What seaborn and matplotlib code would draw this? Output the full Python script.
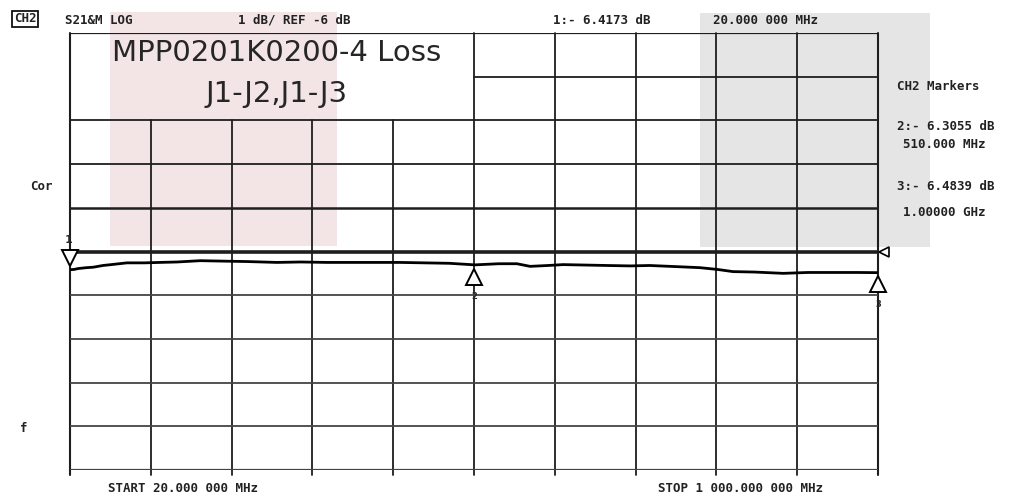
import matplotlib
matplotlib.use("Agg")
import matplotlib.pyplot as plt
import seaborn as sns
import numpy as np
import pandas as pd
from matplotlib.patches import Rectangle

# ---- data ----
freq_mhz = [20, 25, 30, 40, 48, 60, 70, 89, 110, 129, 150, 178, 205, 235, 271, 300, 332,
            370, 420, 450, 480, 511, 540, 562, 578, 600, 618, 645, 671, 700, 723, 760,
            784, 805, 824, 850, 885, 915, 945, 975, 1000]
loss_db = [-6.417, -6.41, -6.39, -6.37, -6.36, -6.32, -6.30, -6.26, -6.26, -6.25, -6.24, -6.21,
           -6.22, -6.23, -6.25, -6.24, -6.25, -6.25, -6.25, -6.26, -6.27, -6.306, -6.28, -6.28,
           -6.34, -6.32, -6.30, -6.31, -6.32, -6.33, -6.32, -6.35, -6.37, -6.41, -6.46, -6.47,
           -6.50, -6.48, -6.48, -6.48, -6.484]
marker_freq = [20, 510, 1000]
marker_names = ["1", "2", "3"]
start_mhz, stop_mhz = 20, 1000
ref_db, db_per_div = -6, 1

W, H = 1021, 497
fig = plt.figure(figsize=(W / 100, H / 100), dpi=100)
sns.set_style("white")

def fx(px):
    return px / W

def fy(py):
    return 1 - py / H

# overlay shading (scan artefacts)
fig.patches.append(Rectangle((fx(110), fy(246)), fx(337) - fx(110), fy(12) - fy(246),
                             transform=fig.transFigure, facecolor="#f3e5e5", edgecolor="none", zorder=-5))
fig.patches.append(Rectangle((fx(700), fy(247)), fx(930) - fx(700), fy(13) - fy(247),
                             transform=fig.transFigure, facecolor="#e5e5e5", edgecolor="none", zorder=-5))

ax = fig.add_axes([fx(70), fy(470), fx(878) - fx(70), fy(33) - fy(470)])
ax.patch.set_alpha(0)
top = ref_db + 5 * db_per_div
bot = ref_db - 5 * db_per_div
ax.set_xlim(start_mhz, stop_mhz)
ax.set_ylim(bot, top)
for s in ax.spines.values():
    s.set_visible(False)
ax.set_xticks([])
ax.set_yticks([])

span = stop_mhz - start_mhz
box_y = top - 2 * db_per_div
gcol = "#1e1e1e"
# vertical grid
for k in range(11):
    xv = start_mhz + k * span / 10
    ymax = 1.0
    if 0 < k < 5:
        ymax = (box_y - bot) / (top - bot)
    ax.axvline(xv, ymin=-0.012, ymax=ymax, color=gcol, lw=1.5 if k in (0, 10) else 1.3, clip_on=False)
# horizontal grid
for j in range(11):
    yv = top - j * db_per_div
    xmin = 0.5 if j == 1 else 0.0
    lw = 1.3
    if abs(yv - ref_db) < 1e-9:
        lw = 2.6
    elif j in (0, 10):
        lw = 1.6
    elif j == 4:
        lw = 1.8
    c = gcol if j <= 5 else "#444444"
    ax.axhline(yv, xmin=xmin, xmax=1.0, color=c, lw=lw)

# trace
df = pd.DataFrame({"freq": freq_mhz, "loss": loss_db})
sns.lineplot(data=df, x="freq", y="loss", ax=ax, color="black", lw=2.0)

# markers
m1y = loss_db[0] + 0.27
ax.plot([marker_freq[0]], [m1y], marker="v", ms=11, mfc="white", mec="black", mew=1.4, clip_on=False, ls="none")
ax.text(marker_freq[0] - 2, m1y + 0.42, marker_names[0], ha="center", va="center", fontsize=8,
        fontweight="bold", family="DejaVu Sans")
for f, nm in zip(marker_freq[1:], marker_names[1:]):
    yv = np.interp(f, freq_mhz, loss_db) - 0.27
    ax.plot([f], [yv], marker="^", ms=12, mfc="white", mec="black", mew=1.4, clip_on=False, ls="none")
    ax.text(f, yv - 0.45, nm, ha="center", va="center", fontsize=6, fontweight="bold",
            family="DejaVu Sans")
# reference position marker
ax.plot([stop_mhz + 7], [ref_db], marker="<", ms=7, mfc="white", mec="black", mew=1.2,
        clip_on=False, ls="none")

# title box text
tfont = dict(family="DejaVu Sans", fontsize=21, color="#262626")
fig.text(fx(277), fy(53), "MPP0201K0200-4 Loss", ha="center", va="center", **tfont)
fig.text(fx(277), fy(94), "J1-J2,J1-J3", ha="center", va="center", **tfont)

# instrument annotations
af = dict(family="DejaVu Sans Mono", fontsize=9, fontweight="bold", color="#222222", va="center")
fig.text(fx(14), fy(19), "CH2", ha="left",
         bbox=dict(boxstyle="square,pad=0.15", fc="white", ec="#111111", lw=1.3), **af)
fig.text(fx(65), fy(20), "S21&M LOG", ha="left", **af)
fig.text(fx(238), fy(20), "1 dB/ REF -6 dB", ha="left", **af)
fig.text(fx(553), fy(20), "1:- 6.4173 dB", ha="left", **af)
fig.text(fx(713), fy(20), "20.000 000 MHz", ha="left", **af)

fig.text(fx(897), fy(87), "CH2 Markers", ha="left", **af)
fig.text(fx(897), fy(127), "2:- 6.3055 dB", ha="left", **af)
fig.text(fx(903), fy(145), "510.000 MHz", ha="left", **af)
fig.text(fx(897), fy(187), "3:- 6.4839 dB", ha="left", **af)
fig.text(fx(903), fy(213), "1.00000 GHz", ha="left", **af)

fig.text(fx(30), fy(186), "Cor", ha="left", **af)
fig.text(fx(20), fy(428), "f", ha="left", **af)

fig.text(fx(108), fy(488), "START 20.000 000 MHz", ha="left", **af)
fig.text(fx(658), fy(488), "STOP 1 000.000 000 MHz", ha="left", **af)

fig.savefig("out.png", dpi=100)
